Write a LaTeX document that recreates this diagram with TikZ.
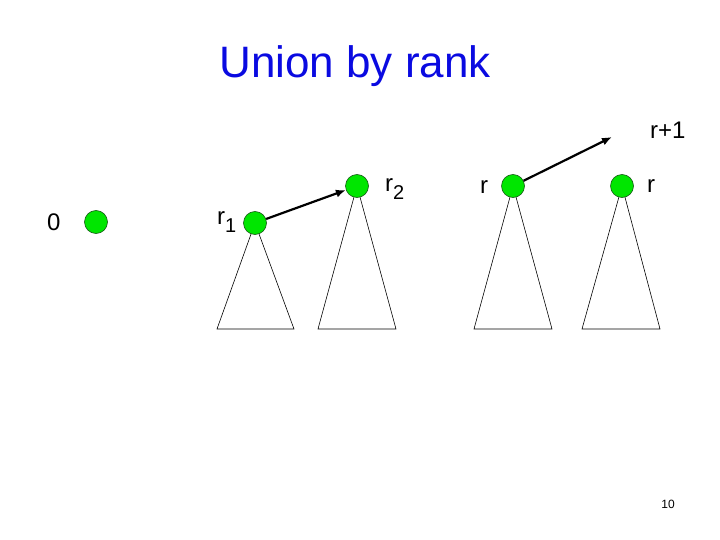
\documentclass[tikz,border=0pt]{standalone}
\usepackage{fontspec}
\setmainfont{Liberation Sans}
\usetikzlibrary{arrows.meta}
\definecolor{titleblue}{RGB}{10,10,225}
\definecolor{nodegreen}{RGB}{0,230,0}
\definecolor{nodeedge}{RGB}{20,90,20}
\begin{document}
\begin{tikzpicture}[x=1pt,y=-1pt,
  vtx/.style={circle,fill=nodegreen,draw=nodeedge,line width=0.6pt,minimum size=23pt,inner sep=0pt},
  tri/.style={draw=black,line width=0.6pt},
  lbl/.style={inner sep=0pt,anchor=base west,font=\fontsize{24}{24}\selectfont},
  link/.style={draw=black,line width=2.2pt,-{Latex[length=10pt,width=8pt]}}]
\useasboundingbox (0,0) rectangle (720,540);
\node[font=\fontsize{44}{44}\selectfont,text=titleblue,anchor=base] (title) at (355,78) {Union by rank};
% triangles (drawn first, under nodes)
\coordinate (t1l) at (217,329); \coordinate (t1r) at (294,329);
\coordinate (t2l) at (318,329); \coordinate (t2r) at (396,329);
\coordinate (t3l) at (474,329); \coordinate (t3r) at (552,329);
\coordinate (t4l) at (582,329); \coordinate (t4r) at (660,329);
\coordinate (a1) at (255,223); \coordinate (a2) at (357,186);
\coordinate (a3) at (513,186); \coordinate (a4) at (622,186);
\draw[tri] (a1) -- (t1l) -- (t1r) -- cycle;
\draw[tri] (a2) -- (t2l) -- (t2r) -- cycle;
\draw[tri] (a3) -- (t3l) -- (t3r) -- cycle;
\draw[tri] (a4) -- (t4l) -- (t4r) -- cycle;
% nodes
\node[vtx] (n0) at (96,222) {};
\node[vtx] (n1) at (a1) {};
\node[vtx] (n2) at (a2) {};
\node[vtx] (n3) at (a3) {};
\node[vtx] (n4) at (a4) {};
% labels
\node[lbl] (l0) at (47,230) {0};
\node[lbl] (l1) at (217,225) {r\raisebox{-8pt}{\fontsize{20}{20}\selectfont 1}};
\node[lbl] (l2) at (385,192) {r\raisebox{-8pt}{\fontsize{20}{20}\selectfont 2}};
\node[lbl] (l3) at (480,194) {r};
\node[lbl] (l4) at (647,193) {r};
\node[lbl] (l5) at (650,139) {r+1};
% connectors
\coordinate (free) at (612,137);
\draw[link] (n1) -- (n2);
\draw[link] (n3) -- (free);
% page number
\node[font=\fontsize{12}{12}\selectfont,anchor=base] (pg) at (668,508) {10};
\end{tikzpicture}
\end{document}
